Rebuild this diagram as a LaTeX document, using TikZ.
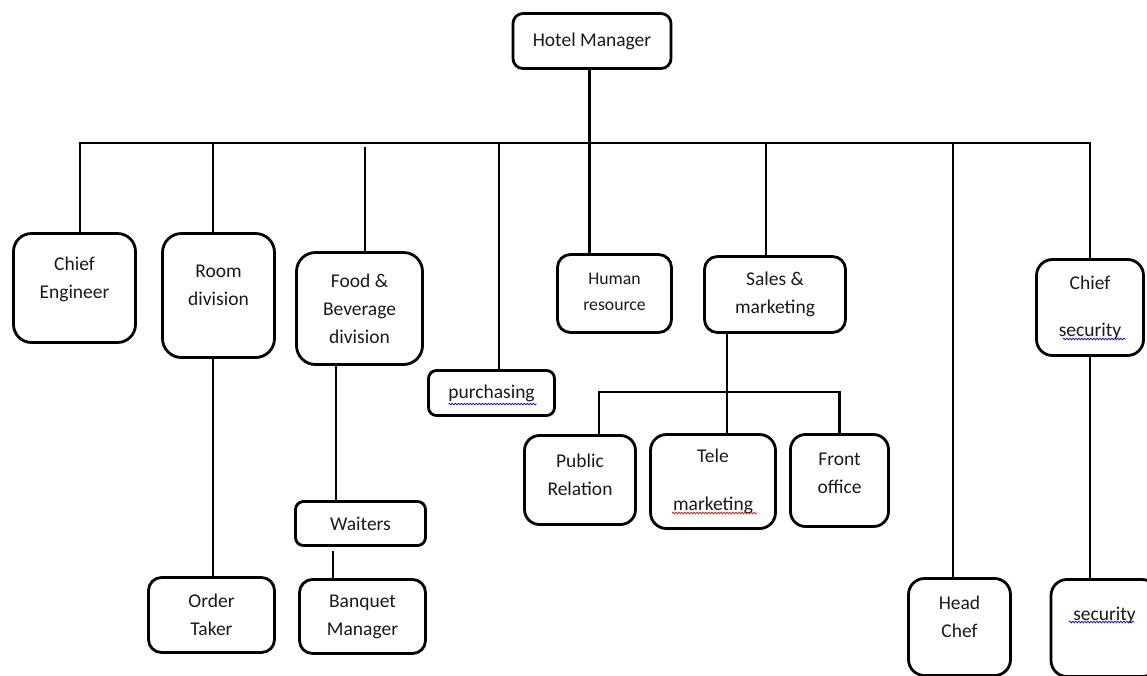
\documentclass[tikz,border=0pt]{standalone}
\usepackage{fontspec}
\setmainfont{Carlito}
\usetikzlibrary{decorations.pathmorphing,calc}

\tikzset{
  post/.style={draw, line width=2.8pt, rounded corners=10pt, align=center, inner sep=0pt,
    text=black!90, font=\fontsize{19.5}{28}\selectfont},
  link/.style={line width=2.8pt},
  squig/.style={draw=#1, line width=0.7pt, decorate,
    decoration={snake, amplitude=0.8pt, segment length=3pt}},
}
\newcommand{\lift}[2]{\raisebox{#1}[\height][\depth]{#2}}

\begin{document}
\begin{tikzpicture}[x=1pt,y=1pt,yscale=-1]
\useasboundingbox (0,0) rectangle (1147,675);
\clip (0,0) rectangle (1147,675);

%Shape: Rounded Rect [top]
\node[post, minimum width=158, minimum height=55] (hm) at (592,41) {Hotel Manager};

%Shape: Rounded Rect [first row]
\node[post, rounded corners=18pt, minimum width=122, minimum height=109] (ce) at (74.5,288) {\lift{9pt}{Chief}\\\lift{9pt}{Engineer}};
\node[post, rounded corners=19pt, minimum width=112, minimum height=124] (rd) at (218.5,295.5) {\lift{10pt}{Room}\\\lift{10pt}{division}};
\node[post, rounded corners=19pt, minimum width=126, minimum height=112] (fb) at (359.5,308.5) {Food \&\\Beverage\\division};
\node[post, rounded corners=8pt, minimum width=126, minimum height=45] (pu) at (491.5,393) {purchasing};
\node[post, rounded corners=13pt, minimum width=114, minimum height=78, font=\fontsize{17.7}{26}\selectfont] (hr) at (614.5,293.5) {\lift{2pt}{Human}\\\lift{2pt}{resource}};
\node[post, rounded corners=13pt, minimum width=141, minimum height=76] (sm) at (775,294.5) {Sales \&\\marketing};
\node[post, rounded corners=16pt, minimum width=107, minimum height=96] (cs) at (1090,307.5) {Chief\\[19pt]security};

%Shape: Rounded Rect [second row]
\node[post, rounded corners=8pt, minimum width=130, minimum height=44] (wa) at (360.5,523.5) {Waiters};
\node[post, rounded corners=15pt, minimum width=111, minimum height=89] (pr) at (580,480) {\lift{5pt}{Public}\\\lift{5pt}{Relation}};
\node[post, rounded corners=16pt, minimum width=125, minimum height=94] (tm) at (713,481.5) {Tele\\[20pt]marketing};
\node[post, rounded corners=15pt, minimum width=98, minimum height=92] (fo) at (839.5,480.5) {\lift{7pt}{Front}\\\lift{7pt}{office}};

%Shape: Rounded Rect [bottom row]
\node[post, rounded corners=13pt, minimum width=126, minimum height=75] (ot) at (211.5,615) {Order\\Taker};
\node[post, rounded corners=13pt, minimum width=126, minimum height=74] (bm) at (362.5,616.5) {Banquet\\Manager};
\node[post, rounded corners=16pt, minimum width=102, minimum height=97] (hc) at (959.5,627) {\lift{10pt}{Head}\\\lift{10pt}{Chef}};
\node[post, rounded corners=16pt, minimum width=107, minimum height=97] (se) at (1104.5,628) {\lift{13pt}{security}};

%Straight Lines [bus]
\coordinate (bl) at (80,143);
\coordinate (br) at (1090,143);
\draw[link] ([xshift=5.5]ce.north) -- (bl) -- (br) -- (cs.north);
\draw[link] ([xshift=-2.5]hm.south) -- ([xshift=-25]hr.north);
\draw[link] ([xshift=-5.5]rd.north |- bl) -- ([xshift=-5.5]rd.north);
\coordinate (fbtop) at (365,147);
\draw[link] (fbtop) -- (fbtop |- fb.north);
\draw[link] ([xshift=7.5]pu.north |- bl) -- ([xshift=7.5]pu.north);
\draw[link] ([xshift=-9]sm.north |- bl) -- ([xshift=-9]sm.north);
\draw[link] ([xshift=-6.5]hc.north |- bl) -- ([xshift=-6.5]hc.north);

%Straight Lines [lower links]
\draw[link] ([xshift=-5.5]rd.south) -- ([xshift=-5.5]rd.south |- ot.north);
\draw[link] ([xshift=-23.5]fb.south) -- ([xshift=-23.5]fb.south |- wa.north);
\coordinate (wgap) at (333,551);
\draw[link] (wgap) -- (wgap |- bm.north);
\draw[link] (cs.south) -- ([xshift=-14.5]se.north);

%Straight Lines [sales branch]
\coordinate (sb) at (727,392);
\draw[link] ([xshift=-48]sm.south) -- ([xshift=14]tm.north);
\draw[link] ([xshift=19]pr.north) |- (sb) -| (fo.north);

% spelling marks
\draw[squig=blue] ($(pu.center)+(-43,11)$) -- ++(88,0);
\draw[squig=blue] ($(cs.center)+(-27,31.5)$) -- ++(63,0);
\draw[squig=blue] ($(se.center)+(-35.5,-6)$) -- ++(65,0);
\draw[squig=red] ($(tm.center)+(-41,31.5)$) -- ++(85,0);

\end{tikzpicture}
\end{document}
